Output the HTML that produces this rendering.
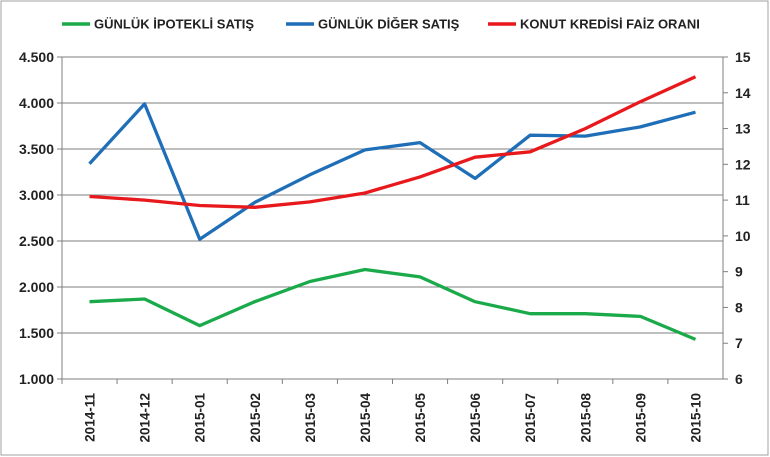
<!DOCTYPE html>
<html><head><meta charset="utf-8"><style>
html,body{margin:0;padding:0;background:#fff}
svg{display:block;font-family:"Liberation Sans",sans-serif;font-weight:bold}
</style></head><body>
<svg id="chart" width="770" height="457">
<rect x="1" y="1" width="767" height="454" fill="#fff" stroke="#a0a0a0"/>
<g id="grid"></g><g id="axes"></g><g id="series"></g>
<g>
<g><line x1="62" y1="24" x2="90" y2="24" stroke="#1aaa4a" stroke-width="3.5"/><text x="94" y="28.5" font-size="13" fill="#222">GÜNLÜK İPOTEKLİ SATIŞ</text></g>
<g><line x1="286" y1="24" x2="314" y2="24" stroke="#1f6fb8" stroke-width="3.5"/><text x="318" y="28.5" font-size="13" fill="#222">GÜNLÜK DİĞER SATIŞ</text></g>
<g><line x1="488" y1="24" x2="516" y2="24" stroke="#e8191c" stroke-width="3.5"/><text x="520" y="28.5" font-size="13" fill="#222">KONUT KREDİSİ FAİZ ORANI</text></g>
</g>
</svg>
<script>
const categories=["2014-11","2014-12","2015-01","2015-02","2015-03","2015-04","2015-05","2015-06","2015-07","2015-08","2015-09","2015-10"];
const ipotekli=[1840,1870,1580,1840,2060,2190,2110,1840,1710,1710,1680,1430];
const diger=[3340,3990,2520,2920,3220,3490,3570,3180,3650,3640,3740,3900];
const faiz=[11.1,11.0,10.85,10.8,10.95,11.2,11.65,12.2,12.35,13.0,13.75,14.45];
const leftTicks=[1000,1500,2000,2500,3000,3500,4000,4500];
const leftTickLabels=["1.000","1.500","2.000","2.500","3.000","3.500","4.000","4.500"];
const rightTicks=[6,7,8,9,10,11,12,13,14,15];

const NS="http://www.w3.org/2000/svg";
const X0=62,X1=723,Y0=379,Y1=57;
const bw=(X1-X0)/categories.length;
const xs=i=>X0+bw*(i+0.5);
const yl=v=>Y0-(v-1000)/3500*(Y0-Y1);
const yr=v=>Y0-(v-6)/9*(Y0-Y1);
function mk(tag,attrs,parent){const e=document.createElementNS(NS,tag);for(const k in attrs)e.setAttribute(k,attrs[k]);parent.appendChild(e);return e;}
const grid=document.getElementById('grid'),axes=document.getElementById('axes'),series=document.getElementById('series');
leftTicks.forEach((t,i)=>{
  const y=yl(t);
  if(i>0){const g=mk('line',{x1:X0,x2:X1,y1:y,y2:y,stroke:'#7f7f7f','stroke-width':1},grid);
  
  }
  const tk=mk('line',{x1:X0-5,x2:X0,y1:y,y2:y,stroke:'#7f7f7f'},axes);
  
  
  const tx=mk('text',{x:X0-8,y:y+5,'text-anchor':'end','font-size':14,fill:'#222'},axes);
  tx.textContent=leftTickLabels[i];
  
  
});
rightTicks.forEach(t=>{
  const y=yr(t);
  const tk=mk('line',{x1:X1,x2:X1+5,y1:y,y2:y,stroke:'#7f7f7f'},axes);
  
  
  const tx=mk('text',{x:X1+12,y:y+5,'font-size':14,fill:'#222'},axes);
  tx.textContent=String(t);
  
  
});
const la=mk('line',{x1:X0,x2:X0,y1:Y1,y2:Y0,stroke:'#7f7f7f'},axes);


const ra=mk('line',{x1:X1,x2:X1,y1:Y1,y2:Y0,stroke:'#7f7f7f'},axes);


const xa=mk('line',{x1:X0,x2:X1,y1:Y0,y2:Y0,stroke:'#7f7f7f'},axes);


categories.forEach((c,i)=>{
  const xt=X0+bw*i;
  const tk=mk('line',{x1:xt,x2:xt,y1:Y0,y2:Y0+5,stroke:'#7f7f7f'},axes);
  
  
  const x=xs(i)+5,y=Y0+14;
  const tx=mk('text',{x:x,y:y,'text-anchor':'end','font-size':13.5,fill:'#222',transform:`rotate(-90 ${x} ${y})`},axes);
  tx.textContent=c;
  
  
});
function line(vals,yf,color,name){
  const pts=vals.map((v,i)=>xs(i).toFixed(1)+','+yf(v).toFixed(1)).join(' ');
  const p=mk('polyline',{points:pts,fill:'none',stroke:color,'stroke-width':3.3,'stroke-linejoin':'round'},series);
  
  
}
line(ipotekli,yl,'#1aaa4a','series-ipotekli');
line(diger,yl,'#1f6fb8','series-diger');
line(faiz,yr,'#e8191c','series-faiz');
</script>
</body></html>
